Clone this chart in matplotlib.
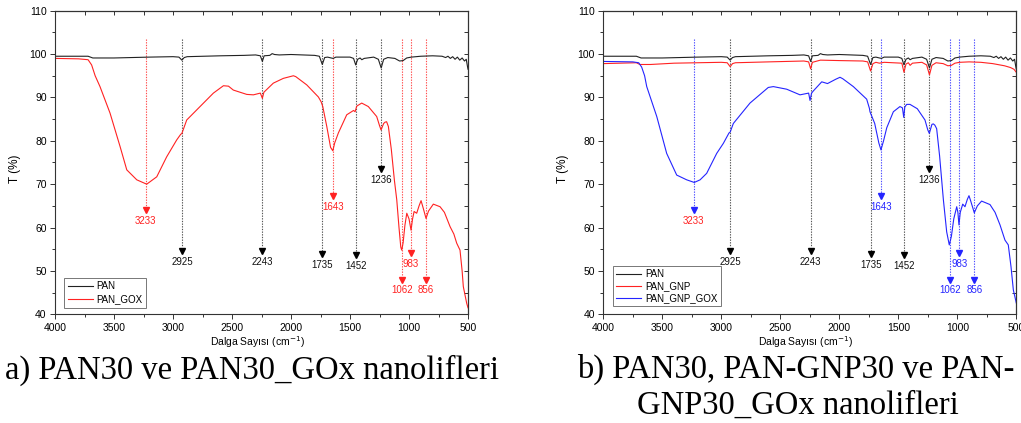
import matplotlib
matplotlib.use("Agg")
import numpy as np
import matplotlib.pyplot as plt
from matplotlib.ticker import MultipleLocator

plt.rcParams['font.family'] = ['Liberation Sans', 'DejaVu Sans']

# FTIR spektrumlari: (dalga sayisi cm-1, T %)
pan = [
    (4000, 99.5), (3800, 99.5), (3720, 99.5), (3680, 99.1), (3500, 99.1), (3200, 99.3),
    (3000, 99.4), (2950, 99.3), (2925, 98.6), (2905, 99.2), (2880, 99.4), (2600, 99.6),
    (2400, 99.7), (2300, 99.8), (2260, 99.6), (2243, 98.3), (2228, 99.6), (2180, 99.7),
    (2160, 100.1), (2140, 99.9), (2100, 99.8), (2000, 99.9), (1900, 99.8), (1800, 99.7),
    (1760, 99.5), (1735, 97.6), (1715, 99.2), (1690, 99.3), (1660, 99.1), (1643, 99.0),
    (1620, 99.3), (1500, 99.3), (1470, 99.0), (1452, 97.5), (1435, 98.8), (1415, 99.1),
    (1400, 98.7), (1380, 99.0), (1300, 99.3), (1260, 98.8), (1236, 96.8), (1215, 98.8),
    (1180, 99.2), (1120, 99.0), (1080, 98.4), (1050, 98.5), (1020, 99.1), (980, 99.3),
    (900, 99.5), (800, 99.6), (720, 99.5), (690, 99.2), (670, 99.5), (650, 99.0),
    (630, 99.4), (610, 98.8), (590, 99.3), (570, 98.6), (550, 99.1), (530, 98.4),
    (515, 98.8), (505, 97.2), (500, 96.5),
]

pan_gox = [
    (4000, 99.0), (3800, 98.9), (3720, 98.7), (3690, 97.5), (3660, 95.0), (3619, 92.5),
    (3534, 86.4), (3449, 78.7), (3392, 73.3), (3307, 71.0), (3223, 70.0), (3138, 71.7),
    (3054, 76.3), (2969, 80.2), (2935, 81.5), (2925, 81.7), (2884, 84.8), (2771, 87.9),
    (2658, 91.0), (2573, 92.7), (2530, 92.6), (2489, 91.7), (2375, 90.7), (2319, 90.6),
    (2260, 91.0), (2243, 89.8), (2230, 91.2), (2150, 93.3), (2065, 94.4), (1980, 95.0),
    (1960, 94.8), (1867, 92.9), (1768, 90.1), (1745, 89.0), (1731, 87.9), (1697, 83.3),
    (1665, 78.5), (1646, 77.7), (1630, 79.5), (1599, 81.8), (1528, 86.0), (1470, 87.0),
    (1457, 86.7), (1443, 88.0), (1401, 88.7), (1345, 87.9), (1274, 85.6), (1250, 83.5),
    (1237, 82.5), (1215, 84.0), (1203, 84.3), (1190, 84.4), (1175, 83.3), (1150, 78.0),
    (1124, 70.9), (1104, 66.4), (1085, 60.0), (1070, 55.5), (1062, 54.8), (1050, 56.5),
    (1035, 60.5), (1019, 63.3), (1000, 62.0), (983, 59.4), (970, 62.0), (957, 63.7),
    (935, 63.3), (915, 65.0), (898, 66.2), (880, 64.5), (856, 62.1), (835, 63.8),
    (794, 65.4), (737, 64.8), (700, 63.5), (652, 60.2), (620, 58.5), (596, 56.4),
    (568, 54.8), (550, 50.0), (540, 46.4), (511, 42.5), (500, 41.5),
]

pan_gnp = [
    (4000, 97.8), (3720, 98.0), (3690, 97.6), (3600, 97.6), (3400, 97.9), (3000, 98.1),
    (2950, 98.0), (2925, 97.1), (2905, 97.8), (2880, 98.0), (2600, 98.2), (2300, 98.4),
    (2260, 98.2), (2243, 96.6), (2228, 98.1), (2160, 98.6), (2000, 98.5), (1800, 98.4),
    (1760, 98.2), (1735, 96.1), (1715, 97.8), (1690, 98.1), (1660, 97.9), (1620, 98.1),
    (1470, 97.9), (1452, 95.8), (1435, 97.7), (1415, 98.0), (1400, 97.4), (1380, 97.9),
    (1300, 98.1), (1260, 97.5), (1236, 95.2), (1215, 97.4), (1180, 98.0), (1120, 97.8),
    (1080, 97.3), (1050, 97.4), (1020, 97.9), (980, 98.1), (900, 98.2), (800, 98.1),
    (700, 97.8), (600, 97.3), (550, 96.9), (520, 96.5), (500, 95.8),
]

pan_gnp_gox = [
    (4000, 98.3), (3750, 98.2), (3700, 98.0), (3675, 97.0), (3650, 95.0), (3632, 92.5),
    (3547, 85.6), (3463, 77.1), (3378, 72.1), (3293, 71.0), (3229, 70.4), (3180, 71.0),
    (3124, 72.5), (3039, 77.1), (2983, 79.4), (2935, 81.8), (2925, 82.0), (2898, 84.0),
    (2757, 88.7), (2602, 92.3), (2559, 92.5), (2446, 91.9), (2333, 90.6), (2260, 91.0),
    (2248, 89.3), (2235, 91.0), (2220, 91.5), (2149, 93.6), (2100, 93.2), (2030, 94.2),
    (1994, 94.65), (1970, 94.3), (1881, 92.5), (1768, 89.6), (1745, 87.5), (1740, 86.7),
    (1700, 84.0), (1665, 79.5), (1647, 77.9), (1625, 80.0), (1598, 83.0), (1542, 86.7),
    (1486, 87.9), (1465, 87.6), (1454, 85.4), (1445, 87.8), (1429, 88.4), (1401, 88.4),
    (1339, 87.4), (1274, 84.8), (1250, 82.5), (1237, 81.7), (1215, 83.8), (1203, 83.9),
    (1190, 83.6), (1175, 82.8), (1150, 76.5), (1118, 66.4), (1090, 59.0), (1068, 56.0),
    (1050, 58.0), (1030, 62.0), (1005, 64.8), (995, 63.5), (986, 60.6), (975, 63.5),
    (954, 65.4), (935, 64.8), (915, 66.5), (901, 67.35), (885, 66.0), (856, 63.4),
    (830, 65.0), (794, 66.1), (723, 65.3), (680, 63.5), (638, 60.6), (596, 57.1),
    (568, 56.0), (545, 51.0), (525, 45.6), (500, 42.6),
]

# isaretlenen pikler
pan_peaks = [2925, 2243, 1735, 1452, 1236]
gox_peaks = [3233, 1643, 1062, 983, 856]

caption_a = "a) PAN30 ve PAN30_GOx nanolifleri"
caption_b = ["b) PAN30, PAN-GNP30 ve PAN-", "GNP30_GOx nanolifleri"]

# ok uclarinin yuksekligi (T ekseninde)
arrow_tip = {3233: 64.1, 2925: 54.6, 2243: 54.6, 1735: 53.8, 1643: 67.2,
             1452: 53.7, 1236: 73.5, 1062: 48.0, 983: 54.1, 856: 48.0}

BLACK = '#222222'
RED = '#ff2222'
BLUE = '#2424ff'


def draw_arrow(ax, wn, line_color, head_color, text_color):
    tip = arrow_tip[wn]
    ax.plot([wn, wn], [103.4, tip + 0.8], ls=(0, (1.2, 1.2)), lw=0.8,
            color=line_color, zorder=1)
    ax.plot([wn], [tip], marker='v', ms=4.5, color=head_color, mec=head_color, zorder=3)
    ax.text(wn, tip - 2.5, str(wn), ha='center', va='center', fontsize=7,
            color=text_color)


def setup_axes(ax):
    ax.set_xlim(4000, 500)
    ax.set_ylim(40, 110)
    ax.xaxis.set_major_locator(MultipleLocator(500))
    ax.xaxis.set_minor_locator(MultipleLocator(250))
    ax.yaxis.set_major_locator(MultipleLocator(10))
    ax.yaxis.set_minor_locator(MultipleLocator(5))
    ax.tick_params(which='both', direction='out', top=False, right=False,
                   labelsize=7.5, width=0.7, color='#333333', pad=2.5)
    ax.tick_params(which='major', length=3.5)
    ax.tick_params(which='minor', length=2.5)
    for s in ax.spines.values():
        s.set_linewidth(0.8)
        s.set_color('#333333')

    top = ax.secondary_xaxis('top')
    top.xaxis.set_major_locator(MultipleLocator(250))
    top.tick_params(direction='in', length=3, width=0.7, labeltop=False, color='#333333')
    right = ax.secondary_yaxis('right')
    right.yaxis.set_major_locator(MultipleLocator(5))
    right.tick_params(direction='in', length=3, width=0.7, labelright=False, color='#333333')

    ax.set_xlabel('Dalga Sayısı (cm$^{-1}$)', fontsize=7.5)
    ax.set_ylabel('T (%)', fontsize=8.5)
    ax.xaxis.set_label_coords(0.49, -0.066)
    ax.yaxis.set_label_coords(-0.083, 0.48)


def plot_series(ax, data, color, label):
    arr = np.array(data)
    ax.plot(arr[:, 0], arr[:, 1], color=color, lw=0.8, label=label, zorder=2)


fig = plt.figure(figsize=(10.21, 4.23), dpi=100)

# a) PAN ve PAN_GOX
ax1 = fig.add_axes([0.0539, 0.2570, 0.4045, 0.7177])
setup_axes(ax1)
plot_series(ax1, pan, BLACK, 'PAN')
plot_series(ax1, pan_gox, RED, 'PAN_GOX')
for wn in pan_peaks:
    draw_arrow(ax1, wn, '#555555', '#000000', '#111111')
for wn in gox_peaks:
    draw_arrow(ax1, wn, '#ff4d4d', RED, RED)
leg = ax1.legend(loc='lower left', bbox_to_anchor=(0.022, 0.022), borderaxespad=0,
                 fontsize=7, handlelength=2.6, labelspacing=0.3, fancybox=False,
                 framealpha=1, edgecolor='#777777', borderpad=0.35, handletextpad=0.4)
leg.get_frame().set_linewidth(0.7)

# b) PAN, PAN_GNP ve PAN_GNP_GOX
ax2 = fig.add_axes([0.5909, 0.2570, 0.4045, 0.7177])
setup_axes(ax2)
plot_series(ax2, pan, BLACK, 'PAN')
plot_series(ax2, pan_gnp, RED, 'PAN_GNP')
plot_series(ax2, pan_gnp_gox, BLUE, 'PAN_GNP_GOX')
for wn in pan_peaks:
    draw_arrow(ax2, wn, '#555555', '#000000', '#111111')
for wn in gox_peaks:
    draw_arrow(ax2, wn, '#4d4dff', BLUE, RED if wn == 3233 else BLUE)
leg = ax2.legend(loc='lower left', bbox_to_anchor=(0.024, 0.027), borderaxespad=0,
                 fontsize=7, handlelength=2.6, labelspacing=0.2, fancybox=False,
                 framealpha=1, edgecolor='#777777', borderpad=0.3, handletextpad=0.4)
leg.get_frame().set_linewidth(0.7)

# alt yazilar
serif = ['Liberation Serif', 'DejaVu Serif']
fig.text(5 / 1021, 1 - 379 / 423, caption_a, fontsize=23.5, family=serif,
         ha='left', va='baseline')
fig.text(796 / 1021, 1 - 378 / 423, caption_b[0], fontsize=23.5, family=serif,
         ha='center', va='baseline')
fig.text(798 / 1021, 1 - 414 / 423, caption_b[1], fontsize=23.5, family=serif,
         ha='center', va='baseline')

fig.savefig('out.png', dpi=100)
